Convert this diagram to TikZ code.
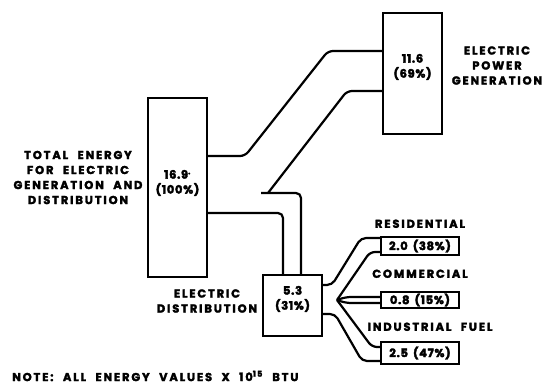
\documentclass[tikz,border=0pt]{standalone}
\usepackage{fontspec}
\setmainfont{Poppins}[LetterSpace=16, WordSpace=2.2, BoldFeatures={FakeBold=2.5}]
\newfontfamily\numfont{Poppins}[LetterSpace=6, WordSpace=1.6, BoldFeatures={FakeBold=3}]
\usetikzlibrary{positioning}

\tikzset{
  box/.style={draw=black, line width=1.8pt, inner sep=0pt},
  flow/.style={draw=black, line width=2.2pt, rounded corners=5pt},
  lbl/.style={font=\bfseries\fontsize{11.5}{15}\selectfont, align=center, inner sep=0pt},
  num/.style={font=\numfont\bfseries\fontsize{11.5}{15}\selectfont, align=center, inner sep=0pt},
}

\begin{document}
\begin{tikzpicture}[x=1pt,y=-1pt]
    \useasboundingbox (0,0) rectangle (543,385);
    % boxes
    \node[box, minimum width=59pt, minimum height=179pt] (total) at (177.5,187.5) {};
    \node[box, minimum width=59pt, minimum height=121pt] (gen) at (412.5,73.5) {};
    \node[box, minimum width=59pt, minimum height=61pt] (dist) at (292.5,305.5) {};
    \node[box, num, minimum width=78pt, minimum height=18pt] (res) at (420,246) {2.0 (38\%)};
    \node[box, num, minimum width=78pt, minimum height=16pt] (com) at (420,300) {0.8 (15\%)};
    \node[box, num, minimum width=78pt, minimum height=22pt] (ind) at (420,353) {2.5 (47\%)};
    % values in the big boxes
    \node[num] (totalval) at ([yshift=4.5pt]total.center) {16.9\textsuperscript{.}\\(100\%)};
    \node[num] (genval) at ([yshift=6.5pt]gen.center) {11.6\\(69\%)};
    \node[num] (distval) at ([yshift=6.5pt]dist.center) {5.3\\(31\%)};
    % flows
    \draw[flow] (total.east |- 0,156) -- (245,156) -- (328,51) -- (gen.west |- 0,51);
    \draw[flow] (gen.west |- 0,91) -- (347,91) -- (268,193);
    \draw[flow] (261,193) -- (301,193) -- (dist.north -| 301,0);
    \draw[flow] (total.east |- 0,213) -- (283,213) -- (dist.north -| 283,0);
    \coordinate (fan) at (337,300);
    \draw[flow] (dist.east |- 0,285) -- (332,285) -- (361,238) -- (res.west |- 0,238);
    \draw[flow] (fan) -- (370,252) -- (res.west |- 0,252);
    \draw[flow] (fan) -- ++(9,-3) -- (com.west |- 0,297);
    \draw[flow] (fan) -- ++(9,3) -- (com.west |- 0,303);
    \draw[flow] (fan) -- (372,347) -- (ind.west |- 0,347);
    \draw[flow] (dist.east |- 0,314) -- (335,314) -- (362,361) -- (ind.west |- 0,361);
    % labels
    \node[lbl] (totallbl) at (78,177.5) {TOTAL ENERGY\\FOR ELECTRIC\\GENERATION AND\\DISTRIBUTION};
    \node[lbl] (genlbl) at (497,65.5) {ELECTRIC\\POWER\\GENERATION};
    \node[lbl] (distlbl) at (207,301) {ELECTRIC\\DISTRIBUTION};
    \node[lbl, above=8pt of res] (reslbl) {RESIDENTIAL};
    \node[lbl, above=13pt of com] (comlbl) {COMMERCIAL};
    \node[lbl, above=10pt of ind, xshift=10pt] (indlbl) {INDUSTRIAL FUEL};
    \node[lbl, anchor=west] (note) at (12,376) {NOTE: ALL ENERGY VALUES X 10\textsuperscript{15} BTU};
\end{tikzpicture}
\end{document}
